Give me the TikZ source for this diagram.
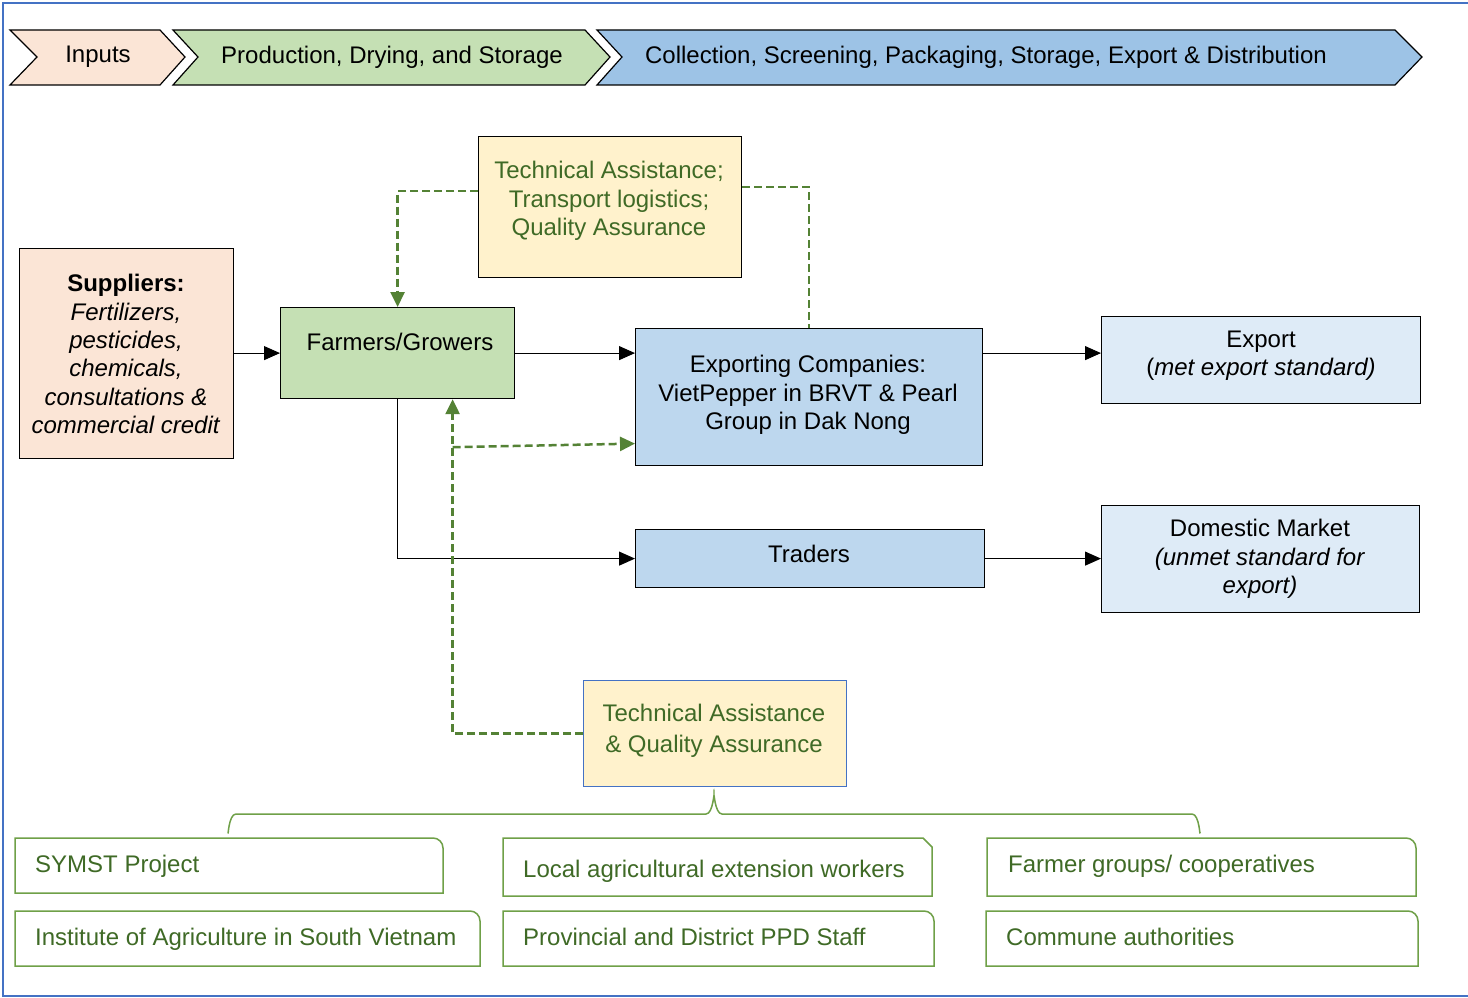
\documentclass[tikz,border=0pt]{standalone}
\usepackage{fontspec}
\setmainfont{Liberation Sans}
\usetikzlibrary{arrows.meta}
\definecolor{peach}{HTML}{FBE5D6}
\definecolor{lgreen}{HTML}{C5E0B4}
\definecolor{cblue}{HTML}{9DC3E6}
\definecolor{mblue}{HTML}{BDD7EE}
\definecolor{pblue}{HTML}{DEEBF7}
\definecolor{lyellow}{HTML}{FFF2CC}
\definecolor{dgreen}{HTML}{548235}
\definecolor{tgreen}{HTML}{3F6A26}
\definecolor{bgreen}{HTML}{6FA048}
\definecolor{frameblue}{HTML}{4472C4}
\newcommand\rtbox[4]{\draw[bbox] (#1,#4) -- (#1,#2) -- (#3-10,#2) arc[start angle=-90,end angle=0,radius=10] -- (#3,#4) -- cycle;}
\newcommand\snbox[4]{\draw[bbox] (#1,#4) -- (#1,#2) -- (#3-9,#2) -- (#3,#2+9) -- (#3,#4) -- cycle;}
\begin{document}
\begin{tikzpicture}[x=1pt,y=-1pt,
  txt/.style={font=\fontsize{24}{28.3}\selectfont, align=center, inner sep=0pt},
  gtxt/.style={txt, text=tgreen},
  btxt/.style={font=\fontsize{24}{28}\selectfont, text=tgreen, inner sep=0pt, anchor=base west},
  box/.style={draw=black, line width=1.2pt, anchor=north west, inner sep=0pt},
  chev/.style={draw=black, line width=1.2pt},
  bbox/.style={draw=bgreen, line width=1.5pt},
  flow/.style={line width=1pt, -{Triangle[length=16pt,width=14pt]}},
  ta/.style={draw=dgreen, line width=2.5pt, dash pattern=on 8pt off 4pt},
  taarrow/.style={ta, -{Triangle[length=15pt,width=14pt]}, dgreen}]
\useasboundingbox (0,0) rectangle (1468,998);
\fill[white] (0,0) rectangle (1468,998);
% frame
\draw[frameblue, line width=2.5pt] (1468,3) -- (3,3) -- (3,996) -- (1468,996);
% chevrons
\draw[chev, fill=peach] (10,30) -- (160,30) -- (185,57) -- (160,85) -- (10,85) -- (37,57) -- cycle;
\draw[chev, fill=lgreen] (173,30) -- (585,30) -- (610,57) -- (585,85) -- (173,85) -- (198,57) -- cycle;
\draw[chev, fill=cblue] (597,30) -- (1395,30) -- (1422,57) -- (1395,85) -- (597,85) -- (622,57) -- cycle;
\node[txt] (inputs) at (98,57) {Inputs};
\node[txt] (prod) at (392,57) {Production, Drying, and Storage};
\node[txt] (coll) at (986,57) {Collection, Screening, Packaging, Storage, Export \& Distribution};
% boxes
\node[box, fill=peach, minimum width=214pt, minimum height=210pt] (sup) at (19,248) {};
\node[txt] (suptxt) at (126,354) {\textbf{Suppliers:}\\\textit{Fertilizers,}\\\textit{pesticides,}\\\textit{chemicals,}\\\textit{consultations \&}\\\textit{commercial credit}};
\node[box, fill=lgreen, minimum width=234pt, minimum height=91pt] (farm) at (280,307) {};
\node[txt] (farmtxt) at (400,342) {Farmers/Growers};
\node[box, fill=lyellow, minimum width=263pt, minimum height=141pt] (tatop) at (478,136) {};
\node[gtxt] (tatoptxt) at (609,201) {Technical Assistance;\\Transport logistics;\\Quality Assurance};
\node[box, fill=mblue, minimum width=347pt, minimum height=137pt] (exp) at (635,328) {};
\node[txt] (exptxt) at (808,395) {Exporting Companies:\\VietPepper in BRVT \& Pearl\\Group in Dak Nong};
\node[box, fill=pblue, minimum width=319pt, minimum height=87pt] (export) at (1101,316) {};
\node[txt] (exporttxt) at (1261,356) {Export\\(\textit{met export standard)}};
\node[box, fill=mblue, minimum width=349pt, minimum height=58pt] (trad) at (635,529) {};
\node[txt] (tradtxt) at (809,554) {Traders};
\node[box, fill=pblue, minimum width=318pt, minimum height=107pt] (dom) at (1101,505) {};
\node[txt] (domtxt) at (1260,559) {Domestic Market\\\textit{(unmet standard for}\\\textit{export)}};
\node[box, draw=frameblue, fill=lyellow, minimum width=263pt, minimum height=106pt] (tabot) at (583,680) {};
\node[gtxt, font=\fontsize{24}{31.5}\selectfont] (tabottxt) at (714,731) {Technical Assistance\\\& Quality Assurance};
% flows
\draw[flow] (sup.east |- farm.west) -- (farm.west);
\draw[flow] (farm.east) -- (farm.east -| exp.west);
\draw[flow] (farm.south) -- (farm.south |- trad.west) -- (trad.west);
\path (export.west) ++(0,-7) coordinate (ein);
\draw[flow] (exp.east |- ein) -- (ein);
\draw[flow] (trad.east) -- (trad.east -| dom.west);
% technical assistance (dashed)
\path (tatop.west) ++(0,-16) coordinate (tal);
\draw[taarrow] (tal) -| (farm.north);
\path (tatop.east) ++(0,-20) coordinate (tar);
\draw[ta] (tar) -| (exp.north);
\path (farm.south) ++(55,0) coordinate (fsb);
\draw[taarrow] (tabot.west) -| (fsb);
\path (fsb) ++(0,48) coordinate (br);
\path (exp.west) ++(0,46.5) coordinate (ewb);
\draw[taarrow] (br) -- (ewb);
% brace
\draw[bgreen, line width=1.5pt] (228,832) to[out=-90,in=180] (236,814) -- (706,814) to[out=0,in=90] (714,797) to[out=90,in=180] (722,814) -- (1192,814) to[out=0,in=-90] (1200,832);
% bottom boxes
\rtbox{15}{838}{443}{893}
\node[btxt] (symst) at (35,872) {SYMST Project};
\rtbox{15}{911}{480}{966}
\node[btxt] (inst) at (35,945) {Institute of Agriculture in South Vietnam};
\snbox{503}{838}{932}{896}
\node[btxt] (local) at (523,877) {Local agricultural extension workers};
\rtbox{503}{911}{934}{966}
\node[btxt] (ppd) at (523,945) {Provincial and District PPD Staff};
\rtbox{987}{838}{1416}{896}
\node[btxt] (fgroups) at (1008,872) {Farmer groups/ cooperatives};
\rtbox{986}{911}{1418}{966}
\node[btxt] (commune) at (1006,945) {Commune authorities};
\end{tikzpicture}
\end{document}
